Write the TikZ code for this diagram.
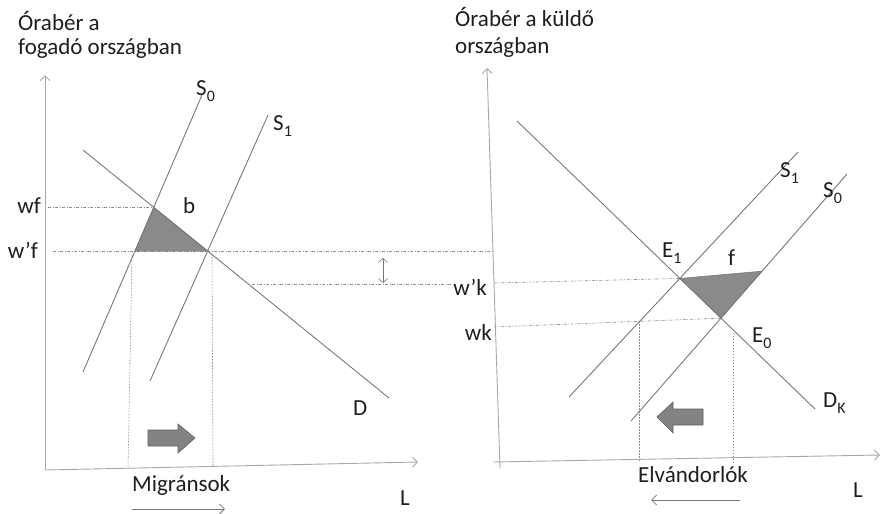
\documentclass[tikz,border=0pt]{standalone}
\usepackage{fontspec}
\setmainfont{Carlito}
\usepackage{xcolor}
\usepackage{tikz}
\usetikzlibrary{arrows.meta}
\definecolor{curvegray}{HTML}{787878}
\definecolor{axisgray}{HTML}{A8A8A8}
\definecolor{guidegray}{HTML}{8C8C8C}
\definecolor{areagray}{HTML}{8A8A8A}
\definecolor{inkgray}{HTML}{1E1E1E}
\newcommand{\lsub}[1]{\raisebox{-0.55ex}{\fontsize{16}{16}\selectfont #1}}

\begin{document}
\begin{tikzpicture}[x=1pt, y=-1pt,
  every node/.style={font=\fontsize{23}{27}\selectfont, text=inkgray, inner sep=0pt},
  lab/.style={anchor=base west},
  labr/.style={anchor=base east},
  curve/.style={draw=curvegray, line width=0.9pt},
  axis/.style={draw=axisgray, line width=0.9pt, -{Straight Barb[length=5pt,width=10pt]}},
  guide/.style={draw=guidegray, line width=0.6pt, dash pattern=on 3pt off 1.5pt on 1pt off 1.5pt},
  drop/.style={draw=guidegray, line width=0.6pt, dash pattern=on 1.5pt off 1.5pt},
  area/.style={fill=areagray, draw=curvegray, line width=0.6pt},
  shiftarr/.style={fill=areagray!95!black, draw=curvegray!80!black, line width=0.6pt},
  flow/.style={draw=curvegray, line width=0.8pt, -{Straight Barb[length=5pt,width=10pt]}},
  gap/.style={draw=curvegray, line width=0.6pt,
              {Straight Barb[length=4pt,width=9pt]}-{Straight Barb[length=4pt,width=9pt]}},
]
\useasboundingbox (0,0) rectangle (881,514);

\coordinate (oa)  at (45,470);
\coordinate (ya)  at (45,75);
\coordinate (xa)  at (418,462);
\coordinate (da)  at (83,150);
\coordinate (db)  at (389,398);
\coordinate (s0a) at (83,372);
\coordinate (s0b) at (202,95);
\coordinate (s1a) at (150,381);
\coordinate (s1b) at (268,115);
\coordinate (e0)  at (intersection of da--db and s0a--s0b);
\coordinate (e1)  at (intersection of da--db and s1a--s1b);
\coordinate (wfx) at (48,0);
\coordinate (wpx) at (53,0);
\coordinate (wrx) at (493,0);
\coordinate (wfl) at (wfx |- e0);
\coordinate (wpl) at (wpx |- e1);
\coordinate (wpr) at (wrx |- e1);
\coordinate (ea)  at (intersection of s0a--s0b and wpl--e1);
\coordinate (ma1) at (132,255);
\coordinate (ma2) at (128,469);
\coordinate (mb1) at (212,254);
\coordinate (mb2) at (213,466);
\coordinate (ga1) at (383,258);
\coordinate (ga2) at (383,283);
\coordinate (wkl1) at (252,284);
\coordinate (wkl2) at (452,284);
\coordinate (mg1) at (132,509);
\coordinate (mg2) at (225,509);

\coordinate (ob)  at (500,468);
\coordinate (yb)  at (487,68);
\coordinate (xb0) at (493,462);
\coordinate (xb)  at (880,455);
\coordinate (ka)  at (517,121);
\coordinate (kb)  at (815,409);
\coordinate (r1a) at (569,397);
\coordinate (r1b) at (798,152);
\coordinate (r0a) at (631,421);
\coordinate (r0b) at (847,174);
\coordinate (f1)  at (intersection of ka--kb and r1a--r1b);
\coordinate (f0)  at (intersection of ka--kb and r0a--r0b);
\coordinate (fdir) at (900,259);
\coordinate (fa)  at (intersection of r0a--r0b and f1--fdir);
\coordinate (wkr) at (494,283);
\coordinate (wbr) at (494,327);
\coordinate (ha)  at (intersection of r1a--r1b and wbr--f0);
\coordinate (hbt) at (733,0);
\coordinate (hbb) at (733,500);
\coordinate (hb)  at (intersection of ka--kb and hbt--hbb);
\coordinate (el1) at (740,500);
\coordinate (el2) at (651,500);

\draw[guide] (wfl) -- (e0);
\draw[guide] (wpl) -- (wpr);
\draw[guide] (wkl1) -- (wkl2);
\draw[guide] (wkr) -- (f1);
\draw[guide] (wbr) -- (f0);
\draw[drop] (ma1) -- (ma2);
\draw[drop] (mb1) -- (mb2);
\draw[drop] (ha) -- (ha |- xb0);
\draw[drop] (hb) -- (hb |- xb0);

\draw[area] (ea) -- (e0) -- (e1) -- cycle;
\draw[area] (f1) -- (fa) -- (f0) -- cycle;

\draw[axis] (oa) -- (ya);
\draw[axis] (oa) -- (xa);
\draw[axis] (ob) -- (yb);
\draw[axis] (xb0) -- (xb);

\draw[curve] (da) -- (db);
\draw[curve] (s0a) -- (s0b);
\draw[curve] (s1a) -- (s1b);
\draw[curve] (ka) -- (kb);
\draw[curve] (r1a) -- (r1b);
\draw[curve] (r0a) -- (r0b);

\draw[gap] (ga1) -- (ga2);
\draw[flow] (mg1) -- (mg2);
\draw[flow] (el1) -- (el2);

\draw[shiftarr] (148,430) -- (178,430) -- (178,424) -- (195,438)
                -- (178,453) -- (178,446) -- (148,446) -- cycle;
\draw[shiftarr] (703,409) -- (673,409) -- (673,402) -- (657,417)
                -- (673,433) -- (673,425) -- (703,425) -- cycle;

\node[lab] (ta1) at (18,30)   {Órabér a};
\node[lab] (ta2) at (18,54)   {fogadó országban};
\node[lab] (ls0) at (196,95)  {S\lsub{0}};
\node[lab] (ls1) at (273,130) {S\lsub{1}};
\node[lab] (lb)  at (183,213) {b};
\node[labr] (lwf) at (41,213) {wf};
\node[labr] (lwp) at (38,258) {w’f};
\node[lab] (ld)  at (353,415) {D};
\node[lab] (lmig) at (132,491) {Migránsok};
\node[lab] (llx) at (400,505) {L};

\node[lab] (tb1) at (455,27)  {Órabér a küldő};
\node[lab] (tb2) at (455,53)  {országban};
\node[lab] (rs1) at (780,177) {S\lsub{1}};
\node[lab] (rs0) at (823,197) {S\lsub{0}};
\node[lab] (re1) at (662,257) {E\lsub{1}};
\node[lab] (rf)  at (728,265) {f};
\node[labr] (rwp) at (487,295) {w’k};
\node[labr] (rwk) at (492,340) {wk};
\node[lab] (re0) at (752,342) {E\lsub{0}};
\node[lab] (rdk) at (823,407) {D\lsub{K}};
\node[lab] (relv) at (638,482) {Elvándorlók};
\node[lab] (rlx) at (853,497) {L};
\end{tikzpicture}
\end{document}
